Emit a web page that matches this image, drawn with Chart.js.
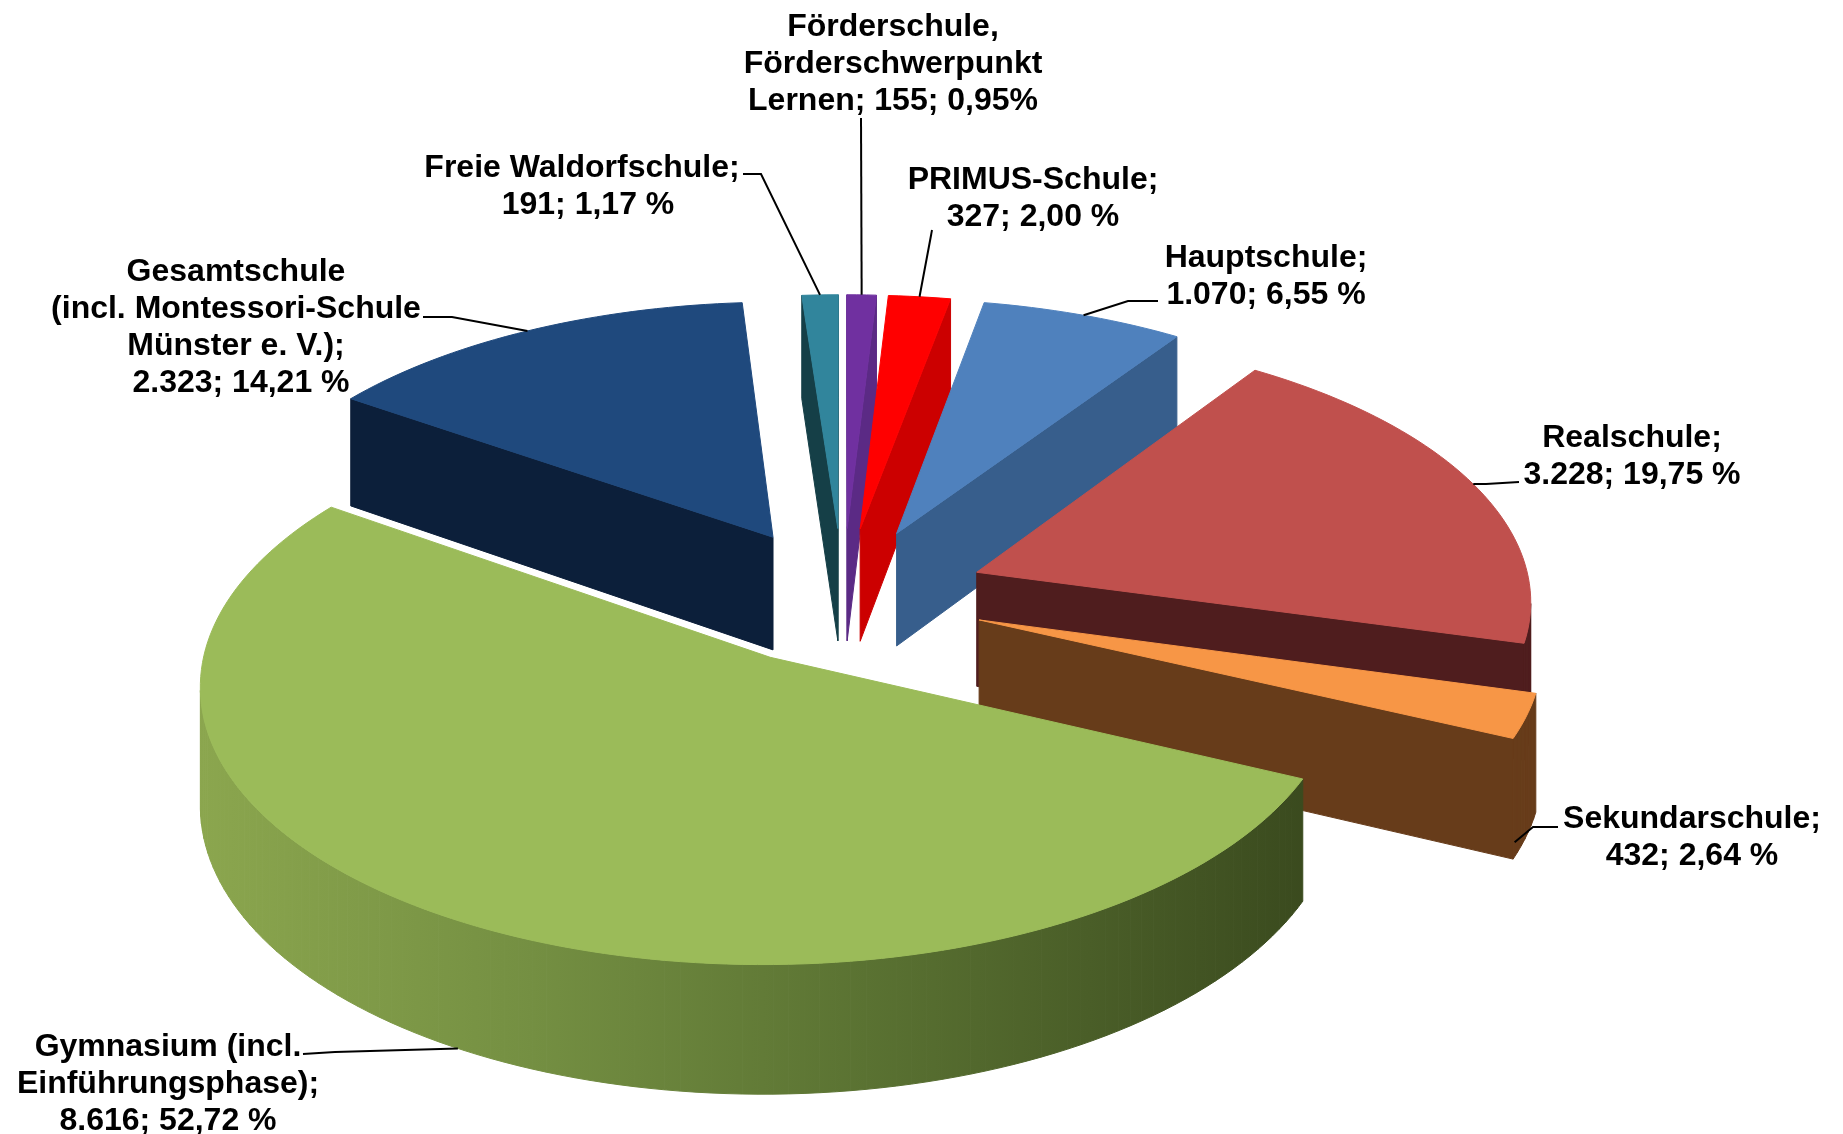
<!DOCTYPE html>
<html>
<head>
<meta charset="utf-8">
<title>Schulformen</title>
<script src="https://cdn.jsdelivr.net/npm/chart.js@4"></script>
<style>
html, body { margin: 0; padding: 0; background: #fff; }
canvas { display: block; }
</style>
</head>
<body>
<canvas id="pieChart" width="1843" height="1134"></canvas>
<script>
// Werte aus der Grafik
const categories = ['Förderschule', 'PRIMUS-Schule', 'Hauptschule', 'Realschule', 'Sekundarschule', 'Gymnasium', 'Gesamtschule', 'Freie Waldorfschule'];
const values = [155, 327, 1070, 3228, 432, 8616, 2323, 191];
const labelLines = [
    ['Förderschule,', 'Förderschwerpunkt', 'Lernen; 155; 0,95%'],
    ['PRIMUS-Schule;', '327; 2,00 %'],
    ['Hauptschule;', '1.070; 6,55 %'],
    ['Realschule;', '3.228; 19,75 %'],
    ['Sekundarschule;', '432; 2,64 %'],
    ['Gymnasium (incl.', 'Einführungsphase);', '8.616; 52,72 %'],
    ['Gesamtschule', '(incl. Montessori-Schule', 'Münster e. V.);', '2.323; 14,21 %'],
    ['Freie Waldorfschule;', '191; 1,17 %']
];

// Farben
const topColors = ['#7030a0', '#ff0000', '#4f81bd', '#c0504d', '#f79646', '#9bbb59', '#1f497d', '#31859c'];
const wallColors = ['#5b2a85', '#cc0000', '#375e8c', '#4f1d1e', '#673c1a', '#3b4b1f', '#0c1f3a', '#153f47'];

// Perspektive der Torte
const view = { cx: 843, cy: 596, sx: 555, sy: 267, k: 0.092, depth: 115 };
const sliceOffset = 130;

// Beschriftung: Mitte x, erste Zeile y, Linie vom Text zum Knick, Ende der Linie auf der Wand (0..1)
const labelLayout = [
    { x: 893, y: 27, line: [[861, 118]], drop: 0 },
    { x: 1033, y: 180, line: [[932, 230]], drop: 0 },
    { x: 1266, y: 258, line: [[1158, 301], [1128, 301]], drop: 0 },
    { x: 1632, y: 438, line: [[1519, 482], [1486, 484]], drop: 0 },
    { x: 1692, y: 819, line: [[1558, 827], [1533, 827]], drop: 0.88, at: 0.95 },
    { x: 168, y: 1047, line: [[303, 1054], [335, 1052]], drop: 1 },
    { x: 236, y: 272, dx: [0, 0, 0, 5], line: [[423, 317], [452, 317]], drop: 0 },
    { x: 582, y: 168, dx: [0, 6], line: [[743, 174], [761, 174]], drop: 0 }
];
const lineHeight = 37.2;

function project(u, far, z) {
    const w = 1 + view.k * far;
    return {
        x: view.cx + view.sx * u / w,
        y: view.cy - view.sy * far / w + view.depth * z / w
    };
}

function polygon(ctx, pts, fill) {
    ctx.beginPath();
    pts.forEach((p, i) => i ? ctx.lineTo(p.x, p.y) : ctx.moveTo(p.x, p.y));
    ctx.closePath();
    ctx.fillStyle = fill;
    ctx.strokeStyle = fill;
    ctx.lineWidth = 1;
    ctx.fill();
    ctx.stroke();
}

function signedArea(pts) {
    let a = 0;
    pts.forEach((p, i) => {
        const q = pts[(i + 1) % pts.length];
        a += p.x * q.y - q.x * p.y;
    });
    return a / 2;
}

// Geometrie eines Stücks aus dem ArcElement der Bibliothek
function sliceGeometry(arc) {
    const start = arc.startAngle + Math.PI / 2;
    const end = arc.endAngle + Math.PI / 2;
    const mid = (start + end) / 2;
    const off = arc.options.offset / arc.outerRadius;
    const ou = Math.sin(mid) * off;
    const of = Math.cos(mid) * off;
    const rim = [];
    const steps = Math.max(2, Math.ceil((end - start) * 40));
    for (let i = 0; i <= steps; i++) {
        const a = start + (end - start) * i / steps;
        rim.push([ou + Math.sin(a), of + Math.cos(a)]);
    }
    return { apex: [ou, of], rim, start, end, ou, of };
}

function drawWall(ctx, a, b, fill) {
    const quad = [project(a[0], a[1], 0), project(b[0], b[1], 0), project(b[0], b[1], 1), project(a[0], a[1], 1)];
    if (signedArea(quad) > 0) polygon(ctx, quad, fill);
}

function drawSlice(ctx, arc, index) {
    const g = sliceGeometry(arc);
    const wall = wallColors[index];
    const rim = g.rim;
    let rimFill = wall;
    if (categories[index] === 'Gymnasium') {
        rimFill = ctx.createLinearGradient(200, 0, 1310, 0);
        rimFill.addColorStop(0, '#8ba64e');
        rimFill.addColorStop(0.3, '#748f42');
        rimFill.addColorStop(0.6, '#5a7232');
        rimFill.addColorStop(1, '#3a4a1e');
    }
    // radiale Wände und Außenwand, nur wenn sie zum Betrachter zeigen
    drawWall(ctx, rim[0], g.apex, wall);
    drawWall(ctx, g.apex, rim[rim.length - 1], wall);
    for (let i = 0; i < rim.length - 1; i++) {
        drawWall(ctx, rim[i + 1], rim[i], rimFill);
    }
    const top = [project(g.apex[0], g.apex[1], 0)].concat(rim.map(p => project(p[0], p[1], 0)));
    polygon(ctx, top, topColors[index]);
}

function drawLabels(ctx, arcs) {
    ctx.font = 'bold 32px "Liberation Sans", Arial, sans-serif';
    ctx.textAlign = 'center';
    ctx.textBaseline = 'middle';
    ctx.fillStyle = '#000';
    labelLines.forEach((lines, i) => {
        const pos = labelLayout[i];
        lines.forEach((txt, n) => ctx.fillText(txt, pos.x + (pos.dx ? pos.dx[n] : 0), pos.y + n * lineHeight));
        const g = sliceGeometry(arcs[i]);
        const a = g.start + (g.end - g.start) * (pos.at === undefined ? 0.5 : pos.at);
        const end = project(g.ou + Math.sin(a), g.of + Math.cos(a), pos.drop);
        ctx.beginPath();
        pos.line.forEach((p, n) => n ? ctx.lineTo(p[0], p[1]) : ctx.moveTo(p[0], p[1]));
        ctx.lineTo(end.x, end.y);
        ctx.strokeStyle = '#000';
        ctx.lineWidth = 2;
        ctx.stroke();
    });
}

const pie3d = {
    id: 'pie3d',
    beforeDatasetDraw(chart) {
        const ctx = chart.ctx;
        const arcs = chart.getDatasetMeta(0).data;
        // von hinten nach vorne zeichnen
        [6, 7, 0, 1, 2, 3, 4, 5].forEach(i => drawSlice(ctx, arcs[i], i));
        drawLabels(ctx, arcs);
        return false;
    }
};

new Chart(document.getElementById('pieChart'), {
    type: 'pie',
    data: {
        labels: categories,
        datasets: [{
            data: values,
            backgroundColor: topColors,
            borderWidth: 0,
            offset: sliceOffset
        }]
    },
    options: {
        responsive: false,
        animation: false,
        rotation: 0,
        plugins: {
            legend: { display: false },
            tooltip: { enabled: false }
        }
    },
    plugins: [pie3d]
});
</script>
</body>
</html>
